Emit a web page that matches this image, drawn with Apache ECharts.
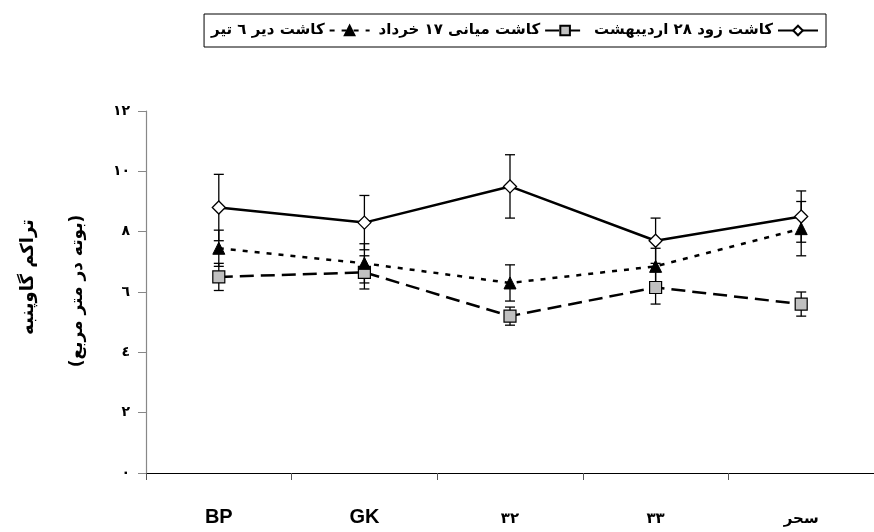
<!DOCTYPE html>
<html>
<head>
<meta charset="utf-8">
<script src="https://cdn.jsdelivr.net/npm/echarts@6/dist/echarts.min.js"></script>
<style>
html,body{margin:0;padding:0;background:#fff;}
#chart{width:874px;height:532px;}
</style>
</head>
<body>
<div id="chart"></div>
<script>
// ---- data ----
const categories = ['BP', 'GK', '٣٢', '٣٣', 'سحر'];
const yTickLabels = ['٠', '٢', '٤', '٦', '٨', '١٠', '١٢'];
const seriesNames = ['کاشت دیر ٦ تیر', 'کاشت میانی ١٧ خرداد', 'کاشت زود ٢٨ اردیبهشت'];
const earlyMean = [8.8, 8.3, 9.5, 7.7, 8.5];
const earlyErr = [1.1, 0.9, 1.05, 0.75, 0.85];
const midMean = [6.5, 6.65, 5.2, 6.15, 5.6];
const midErr = [0.45, 0.55, 0.3, 0.55, 0.4];
const lateMean = [7.45, 6.95, 6.3, 6.85, 8.1];
const lateErr = [0.6, 0.65, 0.6, 0.6, 0.9];
const yTitle1 = 'تراکم گاوپنبه';
const yTitle2 = '(بوته در متر مربع)';

const FA = "'DejaVu Sans', 'Noto Sans', sans-serif";

function errSeries(mean, err) {
  const data = mean.map((m, i) => [i, m - err[i], m + err[i]]);
  return {
    type: 'custom',
    z: 1,
    silent: true,
    data: data,
    encode: { x: 0, y: [1, 2] },
    renderItem: function (params, api) {
      const x = api.value(0);
      const lo = api.coord([x, api.value(1)]);
      const hi = api.coord([x, api.value(2)]);
      const hw = 5;
      const st = { stroke: '#000', lineWidth: 1.3 };
      return {
        type: 'group',
        children: [
          { type: 'line', shape: { x1: lo[0], y1: lo[1], x2: hi[0], y2: hi[1] }, style: st },
          { type: 'line', shape: { x1: lo[0] - hw, y1: lo[1], x2: lo[0] + hw, y2: lo[1] }, style: st },
          { type: 'line', shape: { x1: hi[0] - hw, y1: hi[1], x2: hi[0] + hw, y2: hi[1] }, style: st }
        ]
      };
    }
  };
}

const chart = echarts.init(document.getElementById('chart'));
chart.setOption({
  animation: false,
  backgroundColor: '#fff',
  grid: { left: 146, top: 111, bottom: 59, width: 733, containLabel: false },
  legend: {
    data: seriesNames,
    right: 48,
    top: 14,
    orient: 'horizontal',
    align: 'right',
    itemWidth: 40,
    itemHeight: 12,
    itemGap: 8,
    padding: [9, 7, 9, 7],
    borderColor: '#000',
    borderWidth: 1,
    textStyle: { fontFamily: FA, fontWeight: 'bold', fontSize: 15, color: '#000' }
  },
  xAxis: {
    type: 'category',
    data: categories,
    boundaryGap: true,
    axisLine: { lineStyle: { color: '#000', width: 1.2 } },
    axisTick: { show: true, inside: false, length: 7, lineStyle: { color: '#555' } },
    axisLabel: {
      margin: 34,
      color: '#000',
      formatter: function (v) { return /^[A-Za-z]/.test(v) ? '{lat|' + v + '}' : '{fa|' + v + '}'; },
      rich: {
        lat: { fontFamily: "'Liberation Sans', Arial, sans-serif", fontWeight: 'bold', fontSize: 20, color: '#000' },
        fa: { fontFamily: FA, fontWeight: 'bold', fontSize: 15, color: '#000', padding: [5, 0, 0, 0] }
      }
    },
    splitLine: { show: false }
  },
  yAxis: {
    type: 'value',
    min: 0,
    max: 12,
    interval: 2,
    axisLine: { show: true, lineStyle: { color: '#888', width: 1.2 } },
    axisTick: { show: true, length: 8, lineStyle: { color: '#888' } },
    axisLabel: {
      margin: 16,
      color: '#000',
      fontFamily: FA,
      fontWeight: 'bold',
      fontSize: 14,
      formatter: function (v) { return yTickLabels[Math.round(v / 2)]; }
    },
    splitLine: { show: false }
  },
  graphic: [
    { type: 'text', x: 28, y: 277, rotation: Math.PI / 2,
      style: { text: yTitle1, fontFamily: FA, fontWeight: 'bold', fontSize: 18, fill: '#000', align: 'center', verticalAlign: 'middle' } },
    { type: 'text', x: 78, y: 291, rotation: Math.PI / 2,
      style: { text: yTitle2, fontFamily: FA, fontWeight: 'bold', fontSize: 17, fill: '#000', align: 'center', verticalAlign: 'middle' } }
  ],
  series: [
    errSeries(earlyMean, earlyErr),
    errSeries(midMean, midErr),
    errSeries(lateMean, lateErr),
    {
      name: seriesNames[2], type: 'line', z: 3, data: earlyMean,
      symbol: 'diamond', symbolSize: 13,
      lineStyle: { color: '#000', width: 2.5, type: 'solid' },
      itemStyle: { color: '#fff', borderColor: '#000', borderWidth: 1.3 }
    },
    {
      name: seriesNames[1], type: 'line', z: 3, data: midMean,
      symbol: 'rect', symbolSize: 12,
      lineStyle: { color: '#000', width: 2.5, type: [14, 7] },
      itemStyle: { color: '#c0c0c0', borderColor: '#000', borderWidth: 1.2 }
    },
    {
      name: seriesNames[0], type: 'line', z: 3, data: lateMean,
      symbol: 'triangle', symbolSize: 12,
      lineStyle: { color: '#000', width: 2.5, type: [5, 7] },
      itemStyle: { color: '#000', borderColor: '#000', borderWidth: 1 }
    }
  ]
});
</script>
</body>
</html>
